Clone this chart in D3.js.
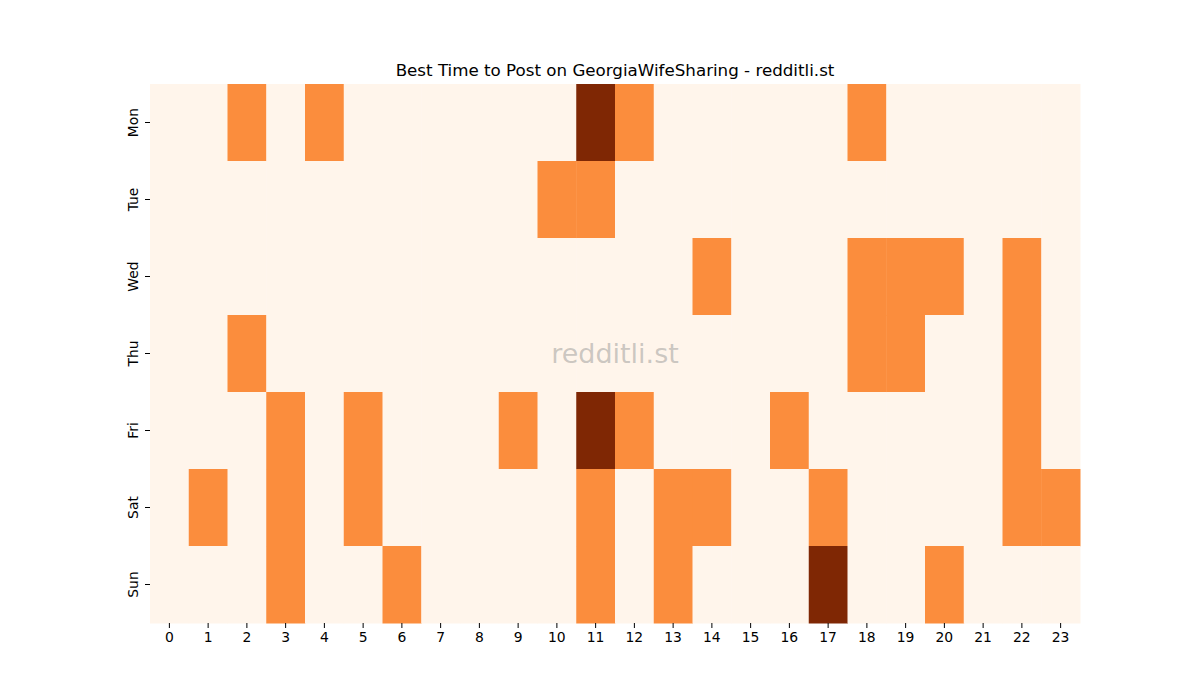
<!DOCTYPE html>
<html>
<head>
<meta charset="utf-8">
<script src="https://cdn.jsdelivr.net/npm/d3@7"></script>
<style>
  body { margin: 0; background: #fff; }
  svg { font-family: "DejaVu Sans", sans-serif; }
</style>
</head>
<body>
<svg id="chart"></svg>
<script>
const days = ["Mon", "Tue", "Wed", "Thu", "Fri", "Sat", "Sun"];
const hours = d3.range(24);
// one row per day, one value per hour (0 = none, 1 = some, 2 = most)
const mon = [0,0,1,0,1,0,0,0,0,0,0,2,1,0,0,0,0,0,1,0,0,0,0,0];
const tue = [0,0,0,0,0,0,0,0,0,0,1,1,0,0,0,0,0,0,0,0,0,0,0,0];
const wed = [0,0,0,0,0,0,0,0,0,0,0,0,0,0,1,0,0,0,1,1,1,0,1,0];
const thu = [0,0,1,0,0,0,0,0,0,0,0,0,0,0,0,0,0,0,1,1,0,0,1,0];
const fri = [0,0,0,1,0,1,0,0,0,1,0,2,1,0,0,0,1,0,0,0,0,0,1,0];
const sat = [0,1,0,1,0,1,0,0,0,0,0,1,0,1,1,0,0,1,0,0,0,0,1,1];
const sun = [0,0,0,1,0,0,1,0,0,0,0,1,0,1,0,0,0,2,0,0,1,0,0,0];
const rows = [mon, tue, wed, thu, fri, sat, sun];

const cells = [];
rows.forEach((r, i) => r.forEach((v, h) => cells.push({ day: days[i], hour: h, value: v })));

const W = 1200, H = 700;
const margin = { top: 84, right: 120, bottom: 77, left: 150 };
const width = W - margin.left - margin.right,
  height = H - margin.top - margin.bottom;

const svg = d3.select("#chart").attr("width", W).attr("height", H);
const g = svg.append("g").attr("transform", `translate(${margin.left},${margin.top})`);

const x = d3.scaleBand().domain(hours).range([0, width]);
const y = d3.scaleBand().domain(days).range([0, height]);
const color = d3.scaleSequential(d3.interpolateOranges).domain([0, d3.max(cells, d => d.value)]);

g.append("g")
  .selectAll("rect")
  .data(cells)
  .join("rect")
  .attr("x", d => x(d.hour))
  .attr("y", d => y(d.day))
  .attr("width", x.bandwidth() + 0.5)
  .attr("height", y.bandwidth() + 0.5)
  .attr("fill", d => color(d.value));

const xAxis = g.append("g")
  .attr("transform", `translate(0,${height})`)
  .call(d3.axisBottom(x).tickSize(5).tickPadding(4))
  .attr("font-family", "DejaVu Sans")
  .attr("font-size", 13.9);
xAxis.select(".domain").remove();
xAxis.selectAll("text").attr("fill", "#000");

const yAxis = g.append("g")
  .call(d3.axisLeft(y).tickSize(5).tickPadding(4))
  .attr("font-family", "DejaVu Sans")
  .attr("font-size", 13.9);
yAxis.select(".domain").remove();
yAxis.selectAll("text")
  .attr("fill", "#000")
  .attr("text-anchor", "middle")
  .attr("dy", "0")
  .attr("x", 0)
  .attr("transform", "translate(-12,0) rotate(-90)");

svg.append("text")
  .attr("x", margin.left + width / 2)
  .attr("y", 76)
  .attr("text-anchor", "middle")
  .style("font-size", "16.7px")
  .text("Best Time to Post on GeorgiaWifeSharing - redditli.st");

g.append("text")
  .attr("x", width / 2)
  .attr("y", height / 2)
  .attr("text-anchor", "middle")
  .attr("dominant-baseline", "central")
  .attr("fill", "#8c8c8c")
  .attr("fill-opacity", 0.45)
  .style("font-size", "27px")
  .text("redditli.st");
</script>
</body>
</html>
